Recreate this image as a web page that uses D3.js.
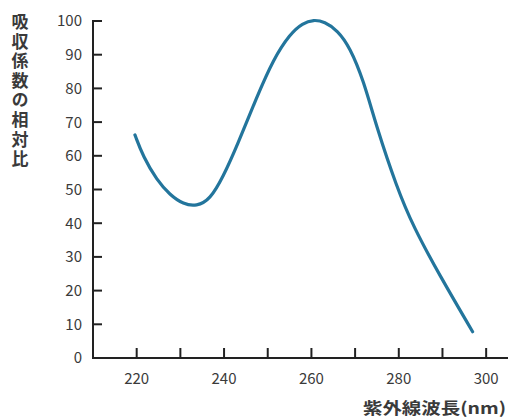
<!DOCTYPE html>
<html><head><meta charset="utf-8">
<script src="https://cdn.jsdelivr.net/npm/d3@7"></script>
<style>
html,body{margin:0;padding:0;background:#fff;}
svg{display:block;}
</style></head>
<body>
<svg id="chart" width="512" height="419"></svg>
<script>
const wavelengths = [219.6, 221.5, 224.6, 227.6, 230.7, 233.7, 236.8, 239.8, 242.9, 247.5, 251.3, 255.1, 258, 260.5, 263, 266, 268.8, 271.9, 274.9, 279.5, 283.3, 289.4, 296.9];
const absorbance  = [66.2, 59.7, 52.8, 48.4, 45.6, 45.0, 47.0, 53.8, 62.7, 77.5, 88.7, 96.2, 99.4, 100.4, 99.8, 97.2, 92.2, 82.5, 68.6, 50.8, 39.0, 24.4, 7.8];
const xTicks = [220, 230, 240, 250, 260, 270, 280, 290, 300];
const xTickLabels = ["220", "", "240", "", "260", "", "280", "", "300"];
const yTicks = [0, 10, 20, 30, 40, 50, 60, 70, 80, 90, 100];
const yTitle = "吸収係数の相対比";
const xTitle = "紫外線波長(nm)";

(function () {
const svg = d3.select("#chart");
const mLeft = 93, mRight = 508, mTop = 21, mBottom = 358;
const x = d3.scaleLinear().domain([210, 305]).range([mLeft, mRight]);
const y = d3.scaleLinear().domain([0, 100]).range([mBottom, mTop]);
const font = "'Noto Sans CJK JP','Liberation Sans',sans-serif";
const textColor = "#3a3a3a";
const axisColor = "#222";

// axes lines
svg.append("line").attr("x1", mLeft).attr("x2", mLeft).attr("y1", mTop - 1).attr("y2", mBottom + 1)
  .attr("stroke", axisColor).attr("stroke-width", 2);
svg.append("line").attr("x1", mLeft - 1).attr("x2", mRight).attr("y1", mBottom).attr("y2", mBottom)
  .attr("stroke", axisColor).attr("stroke-width", 2);

// y ticks (inward, to the right of the axis)
svg.append("g").selectAll("line").data(yTicks.filter(d => d > 0)).join("line")
  .attr("x1", mLeft).attr("x2", mLeft + 9)
  .attr("y1", d => y(d)).attr("y2", d => y(d))
  .attr("stroke", axisColor).attr("stroke-width", 2);
svg.append("g").selectAll("text").data(yTicks).join("text")
  .attr("x", 82).attr("y", d => y(d)).attr("dy", "0.36em")
  .attr("text-anchor", "end").attr("font-family", font).attr("font-size", 15)
  .attr("fill", textColor).text(d => d);

// x ticks (inward, above the axis)
svg.append("g").selectAll("line").data(xTicks).join("line")
  .attr("x1", d => x(d)).attr("x2", d => x(d))
  .attr("y1", mBottom).attr("y2", mBottom - 10)
  .attr("stroke", axisColor).attr("stroke-width", 2);
svg.append("g").selectAll("text").data(xTicks).join("text")
  .attr("x", d => x(d)).attr("y", 379).attr("dy", "0.36em")
  .attr("text-anchor", "middle").attr("font-family", font).attr("font-size", 15)
  .attr("fill", textColor).text((d, i) => xTickLabels[i]);

// curve
const pts = wavelengths.map((w, i) => [w, absorbance[i]]);
svg.append("path").datum(pts)
  .attr("fill", "none").attr("stroke", "#23759c").attr("stroke-width", 3.2)
  .attr("stroke-linecap", "round")
  .attr("d", d3.line().x(d => x(d[0])).y(d => y(d[1])).curve(d3.curveBasis));

// y title (vertical text)
svg.append("text")
  .attr("x", 20).attr("y", 13)
  .style("writing-mode", "vertical-rl").style("text-orientation", "upright")
  .attr("font-family", font).attr("font-size", 17).attr("font-weight", "bold")
  .attr("letter-spacing", 2.6).attr("fill", textColor).text(yTitle);

// x title
svg.append("text").attr("x", 506).attr("y", 408).attr("dy", "0.36em")
  .attr("text-anchor", "end").attr("font-family", font).attr("font-size", 16)
  .attr("font-weight", "bold").attr("fill", textColor)
  .attr("textLength", 143).attr("lengthAdjust", "spacingAndGlyphs").text(xTitle);
})();
</script>
</body></html>
